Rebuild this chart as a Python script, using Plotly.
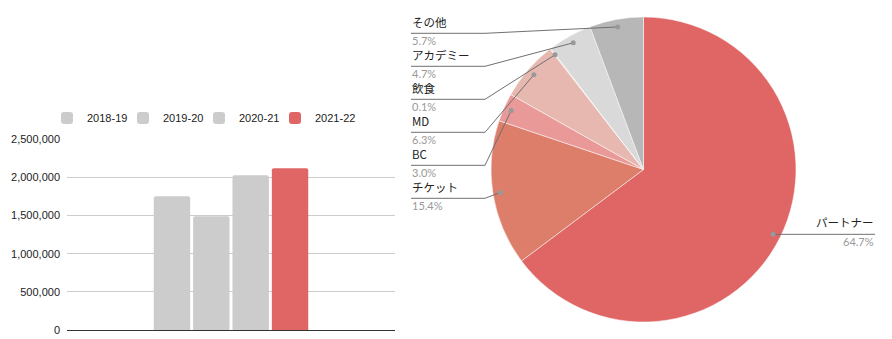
import math
import plotly.graph_objects as go

W, H = 892, 339

# ---- bar chart data ----
seasons = ["2018-19", "2019-20", "2020-21", "2021-22"]
season_values = [1755000, 1490000, 2030000, 2120000]
season_colors = ["#cccccc", "#cccccc", "#cccccc", "#e06666"]
y_ticks = [0, 500000, 1000000, 1500000, 2000000, 2500000]

# ---- pie chart data (clockwise from 12 o'clock) ----
pie_labels = ["パートナー", "チケット", "BC", "MD", "飲食", "アカデミー", "その他"]
pie_values = [64.7, 15.4, 3.0, 6.3, 0.1, 4.7, 5.7]
pie_colors = ["#e06666", "#dd7e6b", "#ea9999", "#e6b8af", "#f4cccc", "#d9d9d9", "#b7b7b7"]


def fx(x):
    return x / W


def fy(y):
    return 1 - y / H


BAR_FONT = "Liberation Sans, Arial, sans-serif"
JP_FONT = "Noto Sans CJK JP, Noto Sans, sans-serif"
PCT_FONT = "Lato, Noto Sans, sans-serif"

fig = go.Figure()

# one legend box per season so the entries sit on an even 76px pitch
legend_ids = ["legend", "legend2", "legend3", "legend4"]
for name, val, col, lid in zip(seasons, season_values, season_colors, legend_ids):
    fig.add_trace(go.Bar(
        x=[""], y=[val], name=name, legend=lid,
        marker=dict(color=col, line=dict(width=0), cornerradius=2),
        hoverinfo="skip",
    ))

# pie geometry in pixels
CX, CY, R = 643.5, 169.5, 152.5
fig.add_trace(go.Pie(
    labels=pie_labels, values=pie_values,
    marker=dict(colors=pie_colors, line=dict(color="white", width=0.5)),
    sort=False, direction="clockwise", rotation=0,
    textinfo="none", showlegend=False, hoverinfo="skip",
    domain=dict(x=[fx(CX - R), fx(CX + R)], y=[fy(CY + R), fy(CY - R)]),
))

# leader lines and labels for the pie
total = sum(pie_values)
cum = 0.0
anchors = []
for v in pie_values:
    mid = (cum + v / 2) / total * 2 * math.pi
    cum += v
    ax = CX + 0.95 * R * math.sin(mid)
    ay = CY - 0.95 * R * math.cos(mid)
    anchors.append((ax, ay))

line_col = "#707070"
dot_col = "#999999"
shapes = []
annotations = []

# left-hand labels, stacked from the top
left_order = ["その他", "アカデミー", "飲食", "MD", "BC", "チケット"]
for i, lab in enumerate(left_order):
    k = pie_labels.index(lab)
    ax, ay = anchors[k]
    ly = 33.3 + 33 * i
    shapes.append(dict(
        type="path", xref="paper", yref="paper",
        path=f"M{fx(411)},{fy(ly)} L{fx(485)},{fy(ly)} L{fx(ax)},{fy(ay)}",
        line=dict(color=line_col, width=1),
    ))
    shapes.append(dict(
        type="circle", xref="paper", yref="paper",
        x0=fx(ax - 2.5), x1=fx(ax + 2.5), y0=fy(ay + 2.5), y1=fy(ay - 2.5),
        fillcolor=dot_col, line=dict(width=0),
    ))
    annotations.append(dict(
        x=fx(410), y=fy(ly - 11), xref="paper", yref="paper",
        xanchor="left", yanchor="middle", showarrow=False,
        text=lab, font=dict(family=JP_FONT, size=11.5, color="#222222"),
    ))
    annotations.append(dict(
        x=fx(410), y=fy(ly + 7), xref="paper", yref="paper",
        xanchor="left", yanchor="middle", showarrow=False,
        text=f"{pie_values[k]:.1f}%", font=dict(family=PCT_FONT, size=11, color="#999999"),
    ))

# right-hand label
ax, ay = anchors[0]
shapes.append(dict(
    type="line", xref="paper", yref="paper",
    x0=fx(ax), x1=fx(875), y0=fy(ay), y1=fy(ay),
    line=dict(color=line_col, width=1),
))
shapes.append(dict(
    type="circle", xref="paper", yref="paper",
    x0=fx(ax - 2.5), x1=fx(ax + 2.5), y0=fy(ay + 2.5), y1=fy(ay - 2.5),
    fillcolor=dot_col, line=dict(width=0),
))
annotations.append(dict(
    x=fx(876), y=fy(ay - 12), xref="paper", yref="paper",
    xanchor="right", yanchor="middle", showarrow=False,
    text=pie_labels[0], font=dict(family=JP_FONT, size=11.5, color="#222222"),
))
annotations.append(dict(
    x=fx(876), y=fy(ay + 7), xref="paper", yref="paper",
    xanchor="right", yanchor="middle", showarrow=False,
    text=f"{pie_values[0]:.1f}%", font=dict(family=PCT_FONT, size=11, color="#999999"),
))

legend_style = dict(
    orientation="h", yanchor="middle", xanchor="left", y=fy(118),
    font=dict(family=BAR_FONT, size=11, color="#222222"),
    bgcolor="rgba(0,0,0,0)",
)
legend_layout = {}
for i, lid in enumerate(legend_ids):
    legend_layout[lid] = dict(legend_style, x=fx(47 + 76 * i))

fig.update_layout(
    width=W, height=H,
    margin=dict(l=0, r=0, t=0, b=0, autoexpand=False),
    paper_bgcolor="white", plot_bgcolor="white",
    barmode="group", bargap=0.52, bargroupgap=0.075,
    font=dict(family=BAR_FONT, size=11, color="#222222"),
    xaxis=dict(
        domain=[fx(67), fx(395)], showticklabels=False, ticks="",
        showgrid=False, zeroline=False,
        showline=True, linecolor="#333333", linewidth=1,
    ),
    yaxis=dict(
        domain=[fy(330), fy(139.3)], range=[0, 2500000],
        tickvals=y_ticks, tickformat=",d",
        showgrid=True, gridcolor="#cccccc", gridwidth=1,
        zeroline=False, showline=False, ticks="",
        ticklabelstandoff=6,
        tickfont=dict(family=BAR_FONT, size=11, color="#222222"),
    ),
    shapes=shapes,
    annotations=annotations,
    **legend_layout,
)

fig.write_html("out.html")
